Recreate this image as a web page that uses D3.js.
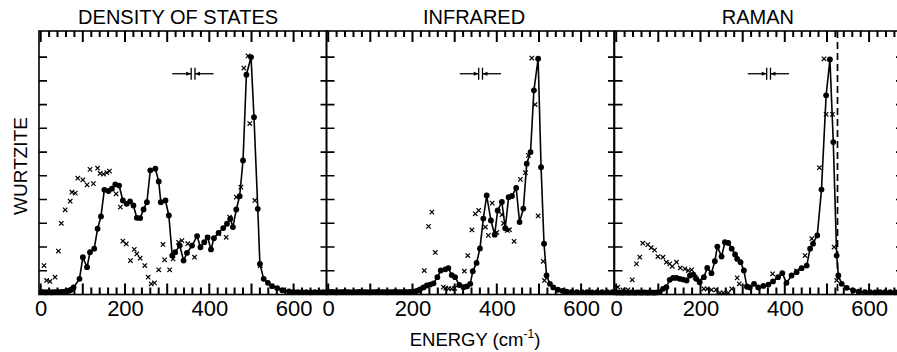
<!DOCTYPE html>
<html>
<head>
<meta charset="utf-8">
<script src="https://cdn.jsdelivr.net/npm/d3@7"></script>
<style>
  body { margin: 0; background: #fff; }
  svg text { font-family: "Liberation Sans", Arial, sans-serif; fill: #000; }
</style>
</head>
<body>
<div id="chart"></div>
<script>
// Panel titles and shared axis labels
const PANEL_TITLES = ['DENSITY OF STATES', 'INFRARED', 'RAMAN'];
const TICK_LABELS = [0, 200, 400, 600];
const Y_TICKS = [0.1, 0.2, 0.3, 0.4, 0.5, 0.6, 0.7, 0.8, 0.9, 1.0];

// [energy cm^-1, normalised intensity] — calculated (dots joined by line)
const dosCalc = [[2,.010],[7,.010],[12,.009],[17,.010],[22,.010],[27,.009],[32,.010],[37,.010],[42,.010],[47,.010],[52,.011],[57,.012],[62,.013],[67,.016],[72,.020],[78,.030],[92,.066],[100,.157],[110,.115],[117,.178],[127,.193],[135,.277],[143,.329],[151,.441],[161,.436],[169,.446],[177,.464],[186,.459],[195,.396],[204,.382],[212,.392],[220,.375],[228,.323],[236,.322],[244,.358],[252,.389],[260,.523],[272,.530],[280,.476],[285,.389],[296,.396],[304,.333],[312,.164],[319,.178],[330,.206],[339,.143],[347,.175],[359,.206],[371,.246],[379,.199],[388,.220],[396,.241],[404,.190],[411,.237],[422,.260],[433,.280],[442,.298],[450,.319],[456,.284],[464,.358],[472,.414],[480,.565],[488,.926],[499,1.0],[506,.747],[515,.361],[520,.129],[529,.066],[539,.049],[549,.035],[561,.027],[573,.018],[589,.013],[600,.011],[610,.010],[620,.010],[630,.010],[640,.009],[650,.010],[660,.010],[670,.010],[678,.010]];

const irCalc = [[2,.010],[8,.011],[14,.010],[20,.009],[26,.010],[32,.010],[38,.011],[44,.010],[50,.010],[56,.009],[62,.010],[68,.010],[74,.011],[80,.010],[86,.010],[92,.010],[98,.009],[104,.010],[110,.010],[116,.011],[122,.010],[128,.010],[134,.010],[140,.009],[146,.010],[152,.010],[158,.011],[164,.010],[170,.010],[176,.010],[182,.011],[188,.010],[194,.011],[200,.012],[206,.013],[212,.016],[218,.022],[226,.030],[234,.038],[242,.042],[250,.047],[259,.073],[267,.101],[278,.106],[285,.111],[293,.082],[301,.073],[311,.040],[321,.031],[329,.034],[337,.045],[343,.098],[352,.133],[360,.194],[368,.320],[376,.417],[386,.312],[395,.252],[402,.354],[412,.390],[420,.279],[428,.410],[436,.415],[446,.449],[454,.305],[463,.362],[471,.551],[480,.600],[488,.860],[498,.993],[505,.536],[512,.214],[518,.080],[526,.045],[534,.030],[545,.020],[556,.015],[566,.012],[578,.011],[590,.010],[602,.010],[614,.010],[626,.009],[638,.010],[650,.010],[662,.010],[674,.010],[678,.010]];

const ramanCalc = [[2,.008],[7,.009],[12,.008],[17,.008],[22,.009],[27,.008],[32,.008],[37,.009],[42,.008],[47,.008],[52,.009],[57,.008],[62,.008],[67,.009],[72,.008],[77,.008],[82,.009],[87,.008],[92,.008],[97,.009],[103,.010],[111,.024],[119,.031],[127,.062],[135,.070],[143,.070],[151,.066],[159,.063],[167,.059],[175,.080],[183,.084],[190,.066],[198,.052],[208,.073],[216,.112],[226,.090],[234,.140],[240,.202],[250,.160],[258,.220],[266,.217],[274,.193],[282,.169],[287,.150],[295,.136],[303,.101],[310,.034],[317,.030],[327,.045],[337,.030],[349,.036],[361,.042],[372,.055],[384,.073],[394,.090],[404,.049],[416,.080],[428,.094],[440,.111],[452,.122],[460,.193],[467,.214],[477,.249],[487,.442],[498,.839],[507,.990],[515,.642],[523,.164],[527,.080],[535,.045],[547,.028],[562,.017],[575,.012],[590,.010],[602,.010],[614,.009],[626,.010],[638,.010],[650,.010],[662,.009],[674,.010]];

// measured points (crosses)
const dosMeas = [[8,.122],[14,.059],[22,.055],[34,.073],[42,.183],[49,.300],[58,.357],[70,.393],[74,.431],[82,.427],[88,.490],[100,.483],[110,.462],[117,.527],[125,.467],[135,.532],[141,.510],[149,.507],[157,.513],[163,.520],[179,.424],[189,.368],[195,.225],[203,.213],[213,.143],[222,.190],[228,.171],[236,.153],[247,.122],[255,.073],[262,.045],[270,.049],[280,.104],[290,.211],[294,.146],[306,.104],[314,.150],[327,.220],[335,.227],[349,.214],[365,.157],[396,.240],[422,.256],[440,.241],[448,.326],[464,.410],[475,.452],[482,.954],[492,1.005],[496,.720],[508,.396],[521,.122]];

const irMeas = [[228,.101],[238,.287],[246,.347],[254,.177],[273,.031],[279,.027],[286,.025],[293,.024],[300,.026],[323,.098],[331,.164],[341,.272],[349,.340],[357,.354],[373,.284],[380,.249],[389,.385],[400,.262],[412,.336],[416,.300],[425,.270],[430,.273],[441,.224],[456,.485],[468,.513],[475,.586],[483,.996],[491,.800],[498,.331],[510,.140],[513,.059]];

const ramanMeas = [[4,.031],[16,.020],[28,.020],[38,.062],[48,.129],[56,.157],[63,.216],[75,.210],[83,.197],[91,.187],[99,.160],[111,.157],[119,.136],[127,.129],[133,.119],[143,.136],[152,.112],[163,.108],[171,.101],[179,.104],[187,.073],[198,.059],[208,.024],[216,.024],[226,.020],[237,.020],[246,.007],[254,.007],[266,.007],[274,.024],[287,.070],[292,.045],[313,.030],[371,.087],[428,.100],[448,.164],[464,.235],[482,.534],[493,.993],[498,.759],[513,.759],[517,.200],[523,.060]];

// resolution marker (→||←) and the Raman dashed line, in data units
const RES_SPAN = [312, 410];
const RES_BARS = [357, 366];
const RES_LEVEL = 0.93;
const RAMAN_DASH_E = 525;

const PANELS = [
  { title: PANEL_TITLES[0], calc: dosCalc, meas: dosMeas, titleAt: 326 },
  { title: PANEL_TITLES[1], calc: irCalc, meas: irMeas, titleAt: 346 },
  { title: PANEL_TITLES[2], calc: ramanCalc, meas: ramanMeas, titleAt: 336, dash: RAMAN_DASH_E }
];

const width = 897;
const height = 352;
const plotTop = 31;
const plotBottom = 294.5;
const panelLefts = [39, 326.5, 614.5];
const panelW = 287.5;

const svg = d3.select('#chart').append('svg').attr('width', width).attr('height', height);

const y = d3.scaleLinear().domain([0, 1.11]).range([plotBottom, plotTop]);

const cross = 'M-2.2,-2.2L2.2,2.2M-2.2,2.2L2.2,-2.2';

PANELS.forEach((p, i) => {
  const left = panelLefts[i];
  const right = left + panelW;
  const x = d3.scaleLinear().domain([-4, 678]).range([left, right]);
  const g = svg.append('g');

  // frame
  g.append('rect')
    .attr('x', left).attr('y', plotTop)
    .attr('width', panelW).attr('height', plotBottom - plotTop)
    .attr('fill', 'none').attr('stroke', '#000').attr('stroke-width', 1.6);

  // energy ticks every 20, longer every 100 — top (down) and bottom (up)
  const xTicks = d3.range(0, 679, 20);
  const xTickPath = xTicks.map(d => `M${x(d).toFixed(1)},${plotTop}v${d % 100 === 0 ? 11 : 6}`).join('') +
    xTicks.map(d => `M${x(d).toFixed(1)},${plotBottom}v${d % 100 === 0 ? -11 : -7}`).join('');
  g.append('path')
    .attr('d', xTickPath)
    .attr('fill', 'none').attr('stroke', '#000').attr('stroke-width', 2);

  // intensity ticks inward on both sides
  const yTickPath = Y_TICKS.map(v => `M${left},${y(v).toFixed(1)}h8`).join('') +
    Y_TICKS.map(v => `M${right},${y(v).toFixed(1)}h-6`).join('');
  g.append('path')
    .attr('d', yTickPath)
    .attr('fill', 'none').attr('stroke', '#000').attr('stroke-width', 1.6);

  // tick labels
  const lab = g.append('g')
    .attr('transform', `translate(0,${plotBottom})`)
    .call(d3.axisBottom(x).tickValues(TICK_LABELS).tickSize(0).tickPadding(6));
  lab.select('.domain').remove();
  lab.selectAll('text').attr('font-size', 22).attr('font-family', '"Liberation Sans", Arial, sans-serif')
    .attr('dy', '0.71em').attr('fill', '#000');

  // title
  svg.append('text')
    .attr('x', x(p.titleAt)).attr('y', 24)
    .attr('text-anchor', 'middle').attr('font-size', 20)
    .text(p.title);

  // calculated curve
  const line = d3.line().x(d => x(d[0])).y(d => y(d[1]));
  g.append('path').datum(p.calc).attr('d', line)
    .attr('fill', 'none').attr('stroke', '#000').attr('stroke-width', 1.6);
  g.selectAll('circle.calc').data(p.calc).join('circle')
    .attr('class', 'calc')
    .attr('cx', d => x(d[0])).attr('cy', d => y(d[1])).attr('r', 2.9).attr('fill', '#000');

  // measured crosses
  g.selectAll('path.meas').data(p.meas).join('path')
    .attr('class', 'meas')
    .attr('d', cross)
    .attr('transform', d => `translate(${x(d[0])},${y(d[1])})`)
    .attr('stroke', '#000').attr('stroke-width', 1.2).attr('fill', 'none');

  // resolution marker
  const ry = y(RES_LEVEL);
  const rm = g.append('g').attr('stroke', '#000').attr('stroke-width', 1.3);
  rm.append('line').attr('x1', x(RES_SPAN[0])).attr('x2', x(RES_BARS[0])).attr('y1', ry).attr('y2', ry);
  rm.append('line').attr('x1', x(RES_BARS[1])).attr('x2', x(RES_SPAN[1])).attr('y1', ry).attr('y2', ry);
  RES_BARS.forEach(b => {
    rm.append('line').attr('x1', x(b)).attr('x2', x(b)).attr('y1', ry - 6).attr('y2', ry + 6);
  });
  rm.append('path').attr('fill', '#000').attr('stroke', 'none')
    .attr('d', `M${x(RES_BARS[0])},${ry}l-5,-2l0,4z`);
  rm.append('path').attr('fill', '#000').attr('stroke', 'none')
    .attr('d', `M${x(RES_BARS[1])},${ry}l5,-2l0,4z`);

  if (p.dash) {
    g.append('line')
      .attr('x1', x(p.dash)).attr('x2', x(p.dash))
      .attr('y1', plotTop).attr('y2', plotBottom)
      .attr('stroke', '#000').attr('stroke-width', 1.7)
      .attr('stroke-dasharray', '7,4');
  }
});

// axis labels
const xl = svg.append('text')
  .attr('x', 475).attr('y', 346)
  .attr('text-anchor', 'middle').attr('font-size', 18.5);
xl.append('tspan').text('ENERGY (cm');
xl.append('tspan').attr('dy', -8).attr('font-size', 12).text('-1');
xl.append('tspan').attr('dy', 8).text(')');

svg.append('text')
  .attr('transform', 'translate(27,166) rotate(-90)')
  .attr('text-anchor', 'middle').attr('font-size', 19)
  .text('WURTZITE');
</script>
</body>
</html>
